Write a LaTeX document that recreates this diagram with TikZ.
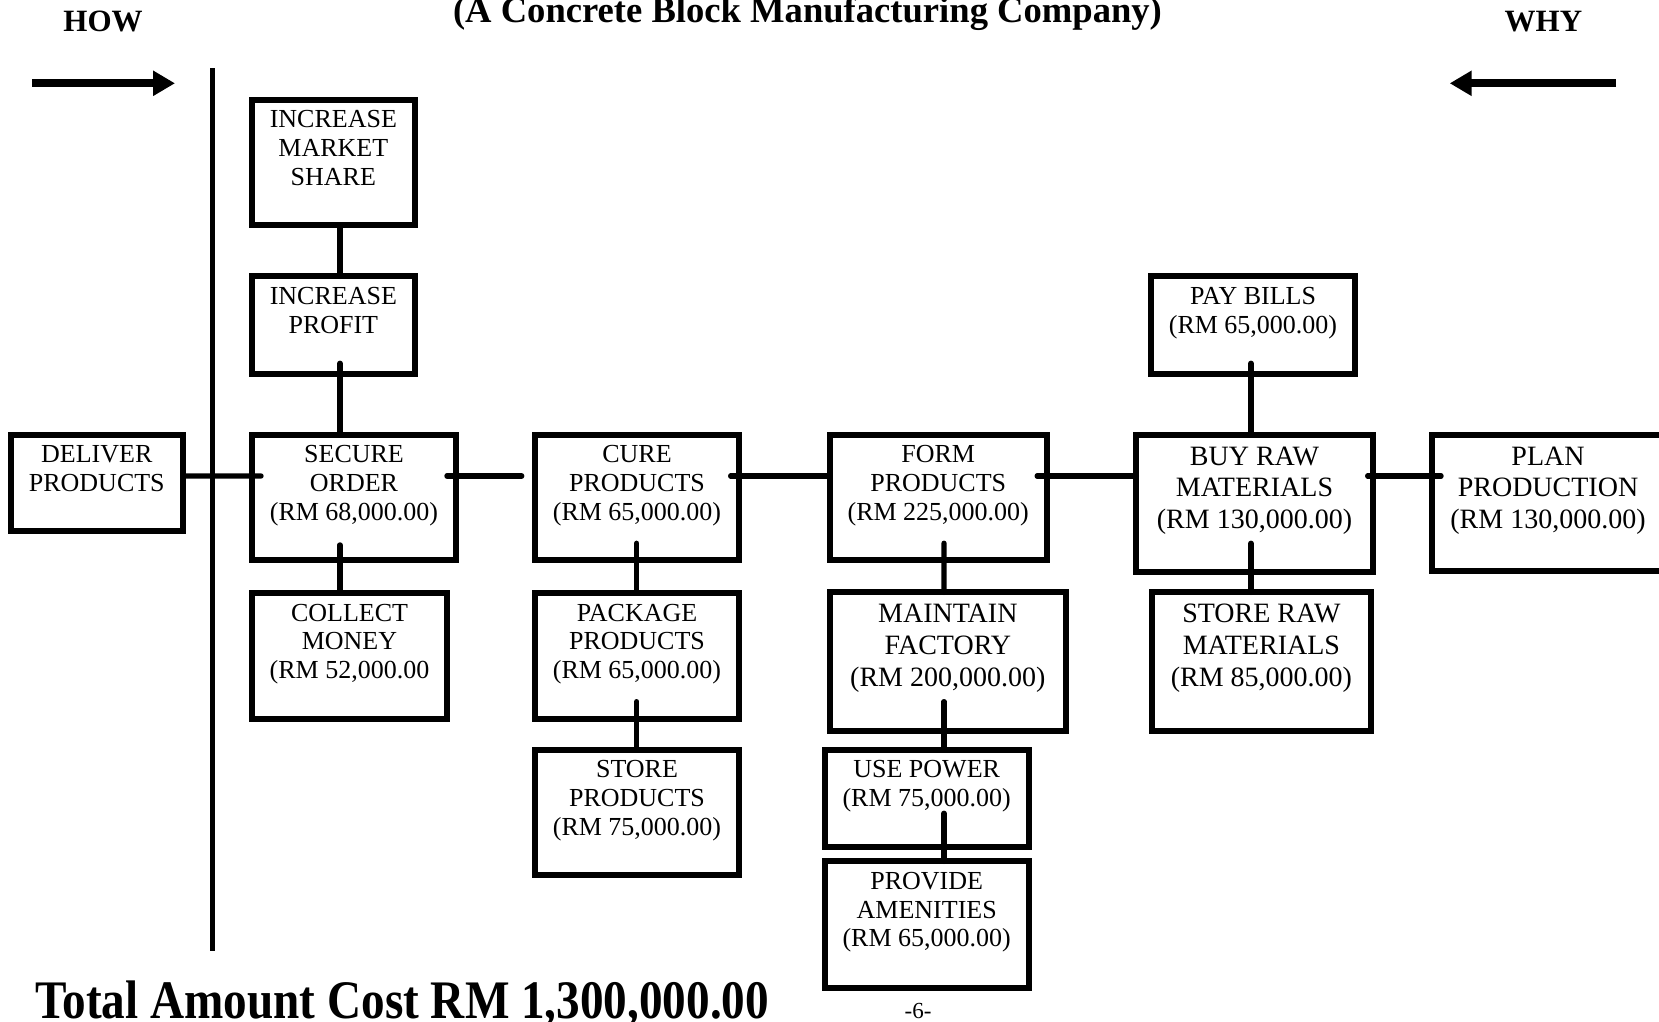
\documentclass[tikz,border=0pt]{standalone}
\usepackage{fontspec}
\setmainfont{Liberation Serif}
\usetikzlibrary{arrows.meta,calc}
\tikzset{
  box/.style={draw=black, line width=3pt, inner sep=0pt, outer sep=0pt, fill=white},
  conn/.style={line width=2.7pt, line cap=round},
  bigarrow/.style={line width=4pt, -{Triangle[length=11pt,width=12pt]}},
  lbl/.style={inner sep=0pt, anchor=base},
}
\newcommand\smt{\fontsize{13}{14.4}\selectfont\def\boff{14pt}}
\newcommand\lgt{\fontsize{14}{15.8}\selectfont\def\boff{15.3pt}}
\newcommand\fbx[7]{%
  \pgfmathsetmacro\myW{(#4-#2-6)/2}%
  \pgfmathsetmacro\myH{(#5-#3-6)/2}%
  \node[box] (#1) at ({(#2+#4)/2},{(#3+#5)/2}) {\parbox[c][\myH pt][t]{\myW pt}{#6\centering\rule{0pt}{\boff}#7}};%
}
\begin{document}
\begin{tikzpicture}[x={(0.5pt,0)}, y={(0,-0.5pt)}]
\clip (0,0) rectangle (1659,1022);
\fill[white] (0,0) rectangle (1659,1022);

% headings
\node[lbl, font=\bfseries\fontsize{18.3}{20}\selectfont] (title) at (807.5,23) {(A Concrete Block Manufacturing Company)};
\node[lbl, font=\bfseries\fontsize{15.5}{18}\selectfont] (how) at (103,31.7) {HOW};
\node[lbl, font=\bfseries\fontsize{15.5}{18}\selectfont] (why) at (1543.4,31.7) {WHY};

% arrows and separator
\coordinate (la1) at (32,83.3);
\coordinate (la2) at (175,83.3);
\coordinate (ra1) at (1616,83.3);
\coordinate (ra2) at (1449.7,83.3);
\draw[bigarrow] (la1) -- (la2);
\draw[bigarrow] (ra1) -- (ra2);
\coordinate (vt) at (212.5,68.5);
\coordinate (vb) at (212.5,951);
\draw[line width=2.5pt] (vt) -- (vb);

% boxes
\fbx{ims}{249}{96.7}{417.7}{228.3}{\smt}{INCREASE\\MARKET\\SHARE}
\fbx{ip}{249}{273.3}{417.7}{376.7}{\smt}{INCREASE\\PROFIT}
\fbx{dp}{7.9}{431.7}{185.7}{534.3}{\smt}{DELIVER\\PRODUCTS}
\fbx{so}{249}{431.7}{459}{562.7}{\smt}{SECURE\\ORDER\\(RM 68,000.00)}
\fbx{cm}{249}{590}{450}{721.7}{\smt}{COLLECT\\MONEY\\(RM 52,000.00}
\fbx{cu}{532.3}{431.7}{741.7}{562.7}{\smt}{CURE\\PRODUCTS\\(RM 65,000.00)}
\fbx{pk}{532.3}{590}{741.7}{721.7}{\smt}{PACKAGE\\PRODUCTS\\(RM 65,000.00)}
\fbx{sp}{532.3}{746.7}{741.7}{878}{\smt}{STORE\\PRODUCTS\\(RM 75,000.00)}
\fbx{fp}{826.7}{431.7}{1049.8}{562.7}{\smt}{FORM\\PRODUCTS\\(RM 225,000.00)}
\fbx{mf}{826.7}{589.3}{1069}{734}{\lgt}{MAINTAIN\\FACTORY\\(RM 200,000.00)}
\fbx{up}{821.7}{746.7}{1031.7}{850}{\smt}{USE POWER\\(RM 75,000.00)}
\fbx{pa}{821.7}{858.3}{1031.7}{990.7}{\smt}{PROVIDE\\AMENITIES\\(RM 65,000.00)}
\fbx{pb}{1148.3}{273.3}{1357.7}{376.7}{\smt}{PAY BILLS\\(RM 65,000.00)}
\fbx{br}{1133.3}{431.7}{1375.7}{575}{\lgt}{BUY RAW\\MATERIALS\\(RM 130,000.00)}
\fbx{sr}{1148.5}{589.3}{1374.3}{734}{\lgt}{STORE RAW\\MATERIALS\\(RM 85,000.00)}
\fbx{pp}{1429}{431.7}{1667}{574}{\lgt}{PLAN\\PRODUCTION\\(RM 130,000.00)}

% horizontal connectors
\draw[conn] ($(dp.north east)+(0,41.3)$) -- ($(so.north west)+(9,41.3)$);
\draw[conn] ($(so.north east)+(-9,41.3)$) -- ($(cu.north west)+(-13.6,41.3)$);
\draw[conn] ($(cu.north east)+(-8,41.3)$) -- ($(fp.north west)+(0,41.3)$);
\draw[conn] ($(fp.north east)+(-9.6,41.3)$) -- ($(br.north west)+(0,41.3)$);
\draw[conn] ($(br.north east)+(-5,41.3)$) -- ($(pp.north west)+(9,41.3)$);

% vertical connectors
\draw[conn] ($(ims.south west)+(88,0)$) -- ($(ip.north west)+(88,0)$);
\draw[conn] ($(ip.south west)+(88,-10.4)$) -- ($(so.north west)+(88,0)$);
\draw[conn] ($(so.south west)+(88,-14.7)$) -- ($(cm.north west)+(88,0)$);
\draw[conn] ($(cu.south west)+(101.4,-16.4)$) -- ($(pk.north west)+(101.4,0)$);
\draw[conn] ($(pk.south west)+(101.4,-17)$) -- ($(sp.north west)+(101.4,0)$);
\draw[conn] ($(fp.south west)+(114.3,-16.4)$) -- ($(mf.north west)+(114.3,0)$);
\draw[conn] ($(mf.south west)+(114.3,-29.3)$) -- ($(up.north west)+(119.3,0)$);
\draw[conn] ($(up.south west)+(119.3,-33.7)$) -- ($(pa.north west)+(119.3,0)$);
\draw[conn] ($(pb.south west)+(99.7,-10.4)$) -- ($(br.north west)+(114.7,0)$);
\draw[conn] ($(br.south west)+(114.7,-28.7)$) -- ($(sr.north west)+(99.5,0)$);

% footer
\node[lbl, anchor=base west, font=\bfseries\fontsize{23.6}{28}\selectfont] (total) at (35,1018) {\scalebox{1}[1.15]{Total Amount Cost RM 1,300,000.00}};
\node[lbl, font=\fontsize{11.5}{13}\selectfont] (pg) at (918,1018) {-6-};
\end{tikzpicture}
\end{document}
